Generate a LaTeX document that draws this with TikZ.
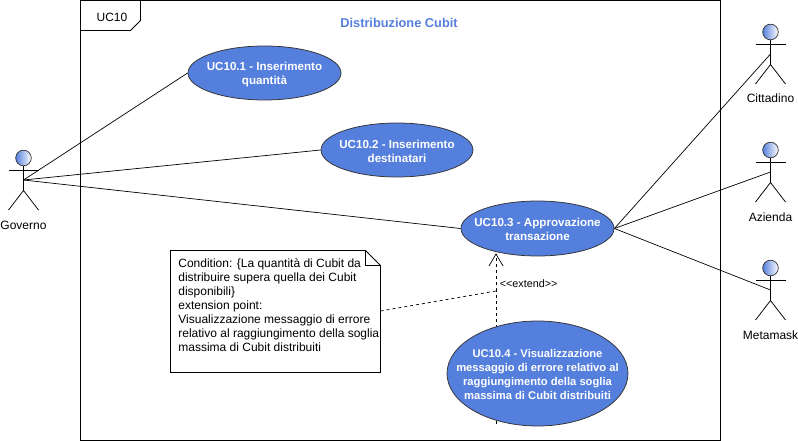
\documentclass[tikz,border=0pt]{standalone}
\usepackage{fontspec}
\setmainfont{Liberation Sans}
\usetikzlibrary{shapes.geometric,backgrounds}
\definecolor{ucblue}{HTML}{557FDD}
\tikzset{
  usecase/.style={ellipse,draw=black!80,fill=ucblue,inner sep=0pt},
  uctext/.style={text=white,align=center,inner sep=0pt,
    font=\fontsize{11.6}{14}\selectfont\bfseries},
  actorlabel/.style={font=\fontsize{12}{14}\selectfont,inner sep=0pt},
  notetext/.style={font=\fontsize{12}{14}\selectfont,align=left,anchor=north west,inner sep=0pt},
  assoc/.style={draw=black,line width=0.7pt},
  extendline/.style={black,dash pattern=on 3pt off 3pt,line width=0.7pt}
}
\begin{document}
\begin{tikzpicture}[x=1pt,y=-1pt,line width=0.75pt]
  \useasboundingbox (0,0) rectangle (798,441);
  % frame
  \draw (80.5,0.5) rectangle (720.5,440);
  \draw (80.5,30.5)--(130.5,30.5)--(140.5,20.5)--(140.5,0.5);
  \node[actorlabel] (tab) at (112,17) {UC10};
  \node[font=\fontsize{12.8}{14}\selectfont\bfseries,text=ucblue,inner sep=0pt] (title) at (399,23) {Distribuzione Cubit};
  % use cases
  \node[usecase,minimum width=153pt,minimum height=54pt] (uc1) at (264.5,73) {};
  \node[uctext] (uc1text) at (264.5,74.5) {UC10.1 - Inserimento\\quantità};
  \node[usecase,minimum width=152pt,minimum height=54pt] (uc2) at (397,150) {};
  \node[uctext] (uc2text) at (397,151) {UC10.2 - Inserimento\\destinatari};
  \node[usecase,minimum width=153pt,minimum height=55pt] (uc3) at (537.5,228.5) {};
  \node[uctext] (uc3text) at (537.5,229.5) {UC10.3 - Approvazione\\transazione};
  \node[usecase,minimum width=181pt,minimum height=105pt] (uc4) at (537.5,373.5) {};
  \node[uctext,font=\fontsize{11.2}{14}\selectfont\bfseries] (uc4text) at (537.5,374.5) {UC10.4 - Visualizzazione\\messaggio di errore relativo al\\raggiungimento della soglia\\massima di Cubit distribuiti};
  % actors
  \foreach \name/\px/\py/\lbl/\ly in {governo/23.5/158/Governo/225,cittadino/770.5/32/Cittadino/98,azienda/770.5/150/Azienda/217,metamask/770.5/268/Metamask/335}{
    \draw[left color=ucblue,right color=white,draw=black!80] (\px,\py) circle[radius=7.8];
    \draw (\px,\py+8)--(\px,\py+32.5);
    \draw (\px-15,\py+12)--(\px+15,\py+12);
    \draw (\px-15,\py+52)--(\px,\py+32.5)--(\px+15,\py+52);
    \coordinate (\name) at (\px,\py+22);
    \node[actorlabel] (\name label) at (\px,\ly) {\lbl};
  }
  % note
  \draw[fill=white] (170.5,250.5)--(365.5,250.5)--(380.5,265.5)--(380.5,372.5)--(170.5,372.5)--cycle;
  \draw (365.5,250.5)--(365.5,265.5)--(380.5,265.5);
  \node[notetext] (note) at (178,258.5) {Condition: \{La quantità di Cubit da\\distribuire supera quella dei Cubit\\disponibili\}\\extension point:\\Visualizzazione messaggio di errore\\relativo al raggiungimento della soglia\\massima di Cubit distribuiti};
  % connectors
  \coordinate (notept) at (380.5,311);
  \coordinate (extpt) at (496,291);
  \coordinate (exttip) at (496,254);
  \coordinate (extfoot) at (496,424);
  \begin{scope}[on background layer]
    \draw[extendline] (extfoot)--(extpt);
  \end{scope}
  \draw[extendline] (notept)--(extpt);
  \draw[extendline] (extpt)--(exttip);
  \draw[line width=0.7pt] (489,266)--(exttip)--(503,266);
  \node[font=\fontsize{10.8}{12}\selectfont,inner sep=0pt,anchor=west] (extlabel) at (499.5,283.5) {<{}<extend>{}>};
  \foreach \u in {uc1,uc2,uc3}{
    \draw[assoc] (governo)--(\u.west);
  }
  \foreach \a in {cittadino,azienda,metamask}{
    \draw[assoc] (uc3.east)--(\a);
  }
\end{tikzpicture}
\end{document}
